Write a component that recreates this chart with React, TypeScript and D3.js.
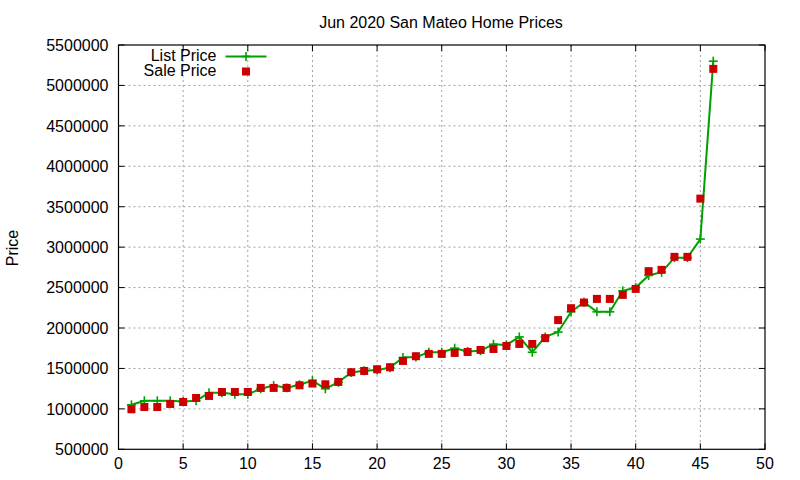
import React from "react";
import * as d3 from "d3";

const index = d3.range(1, 47);
const listPrice = [
  1050000, 1100000, 1100000, 1100000, 1090000, 1100000, 1199000, 1199000, 1180000, 1180000,
  1250000, 1288000, 1260000, 1299000, 1350000, 1248000, 1330000, 1450000, 1470000, 1480000,
  1510000, 1635000, 1640000, 1700000, 1700000, 1750000, 1710000, 1720000, 1800000, 1790000,
  1890000, 1700000, 1890000, 1950000, 2200000, 2320000, 2200000, 2200000, 2460000, 2500000,
  2650000, 2690000, 2870000, 2870000, 3100000, 5300000,
];
const salePrice = [
  995000, 1023000, 1023000, 1061000, 1085000, 1135000, 1160000, 1209000, 1209000, 1209000,
  1259000, 1259000, 1259000, 1292000, 1313000, 1304000, 1333000, 1453000, 1469000, 1490000,
  1515000, 1593000, 1651000, 1680000, 1680000, 1692000, 1704000, 1729000, 1741000, 1778000,
  1803000, 1803000, 1875000, 2098000, 2245000, 2315000, 2360000, 2360000, 2410000, 2484000,
  2703000, 2719000, 2880000, 2880000, 3600000, 5205000,
];
const xTicks = [0, 5, 10, 15, 20, 25, 30, 35, 40, 45, 50];
const yTicks = [500000, 1000000, 1500000, 2000000, 2500000, 3000000, 3500000, 4000000, 4500000, 5000000, 5500000];

const W = 800;
const H = 480;
const L = 118.5;
const R = 765;
const T = 45;
const B = 449.3;
const GREEN = "#00a000";
const RED = "#cc0000";
const FONT = "'Liberation Sans', Arial, sans-serif";

export default function App() {
  const x = d3.scaleLinear().domain([0, 50]).range([L, R]);
  const y = d3.scaleLinear().domain([500000, 5500000]).range([B, T]);
  const line = d3
    .line<number>()
    .x((_, i) => x(index[i]))
    .y((d) => y(d));

  const plus = (cx: number, cy: number, key: string | number) => (
    <g key={key} stroke={GREEN} strokeWidth={1.6}>
      <line x1={cx - 4.5} x2={cx + 4.5} y1={cy} y2={cy} />
      <line x1={cx} x2={cx} y1={cy - 4.5} y2={cy + 4.5} />
    </g>
  );

  return (
    <svg
      width={W}
      height={H}
      style={{ position: "absolute", left: 0, top: 0, background: "#fff" }}
      fontFamily={FONT}
      fontSize={16}
    >
      <rect x={0} y={0} width={W} height={H} fill="#fff" />
      {/* grid */}
      <g stroke="#a0a0a0" strokeWidth={1} strokeDasharray="2,3">
        {xTicks.filter((t) => t > 0 && t < 50).map((t) => (
          <line key={"gx" + t} x1={x(t)} x2={x(t)} y1={T} y2={B} />
        ))}
        {yTicks.filter((t) => t > 500000 && t < 5500000).map((t) => (
          <line key={"gy" + t} x1={L} x2={R} y1={y(t)} y2={y(t)} />
        ))}
      </g>
      {/* ticks */}
      <g stroke="#000" strokeWidth={1}>
        {xTicks.map((t) => (
          <g key={"tx" + t}>
            <line x1={x(t)} x2={x(t)} y1={B} y2={B - 6} />
            <line x1={x(t)} x2={x(t)} y1={T} y2={T + 6} />
          </g>
        ))}
        {yTicks.map((t) => (
          <g key={"ty" + t}>
            <line x1={L} x2={L + 6} y1={y(t)} y2={y(t)} />
            <line x1={R} x2={R - 6} y1={y(t)} y2={y(t)} />
          </g>
        ))}
      </g>
      <rect x={L} y={T} width={R - L} height={B - T} fill="none" stroke="#000" strokeWidth={1.2} />
      {/* tick labels */}
      {xTicks.map((t) => (
        <text key={"lx" + t} x={x(t)} y={468.5} textAnchor="middle" fill="#000">
          {t}
        </text>
      ))}
      {yTicks.map((t) => (
        <text key={"ly" + t} x={108.5} y={y(t) + 5.8} textAnchor="end" fill="#000">
          {t}
        </text>
      ))}
      {/* title & axis label */}
      <text x={441} y={28} textAnchor="middle" fill="#000">
        Jun 2020 San Mateo Home Prices
      </text>
      <text transform="translate(18,248) rotate(-90)" textAnchor="middle" fill="#000">
        Price
      </text>
      {/* list price line */}
      <path d={line(listPrice) || ""} fill="none" stroke={GREEN} strokeWidth={2} />
      {listPrice.map((v, i) => plus(x(index[i]), y(v), "p" + i))}
      {/* sale price squares */}
      {salePrice.map((v, i) => (
        <rect key={"s" + i} x={x(index[i]) - 4} y={y(v) - 4} width={8} height={8} fill={RED} />
      ))}
      {/* legend */}
      <text x={216.5} y={61} textAnchor="end" fill="#000">
        List Price
      </text>
      <line x1={225.5} x2={266.5} y1={56.5} y2={56.5} stroke={GREEN} strokeWidth={2} />
      {plus(246, 56.5, "legplus")}
      <text x={216.5} y={75.5} textAnchor="end" fill="#000">
        Sale Price
      </text>
      <rect x={242} y={67.5} width={8} height={8} fill={RED} />
    </svg>
  );
}
